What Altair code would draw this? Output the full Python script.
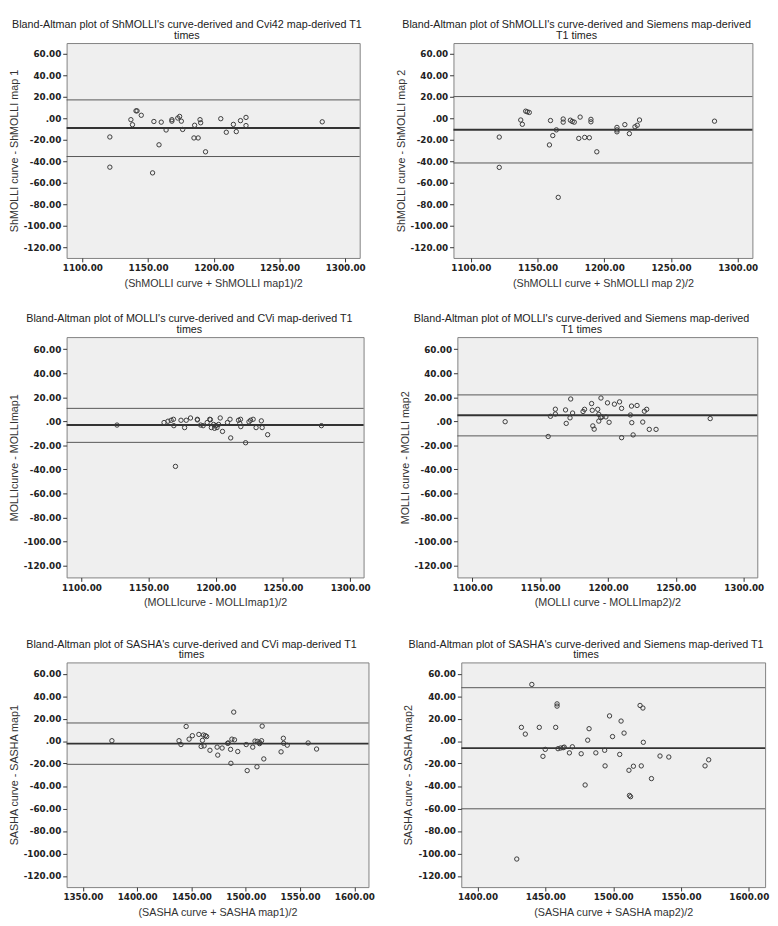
import altair as alt
import pandas as pd

# ---------------- data ----------------
p1_x = [1120.9, 1120.9, 1136.9, 1138.1, 1140.8, 1141.6, 1144.8, 1154.4, 1153.4, 1158.3, 1160.0, 1163.7, 1168.1, 1168.1, 1172.6, 1174.0, 1175.3, 1176.3, 1185.4, 1184.9, 1188.1, 1189.5, 1190.0, 1193.7, 1205.3, 1209.5, 1214.9, 1217.1, 1220.3, 1224.5, 1224.5, 1282.5]
p1_y = [-17.4, -45.5, -1.3, -6.0, 6.9, 6.9, 2.8, -3.0, -50.8, -24.7, -3.6, -10.9, -1.3, -2.7, 0.2, 1.7, -2.7, -10.4, -6.5, -18.3, -18.3, -1.3, -4.2, -31.2, -0.4, -13.0, -5.7, -12.4, -2.2, 0.8, -6.8, -3.3]
p1_lines = [17.1, -9.0, -35.6]

p2_x = [1121.3, 1121.3, 1137.4, 1138.6, 1141.1, 1142.3, 1143.8, 1159.7, 1161.4, 1158.9, 1164.1, 1165.5, 1169.2, 1169.2, 1174.6, 1176.0, 1177.5, 1180.9, 1181.9, 1185.3, 1188.8, 1190.0, 1190.0, 1194.4, 1209.5, 1209.5, 1209.5, 1215.4, 1218.8, 1223.0, 1224.7, 1226.4, 1282.6]
p2_y = [-17.5, -45.7, -1.6, -5.6, 6.6, 6.0, 5.4, -2.1, -16.1, -24.8, -10.8, -73.6, -0.7, -3.6, -1.8, -3.0, -3.6, -18.7, 1.1, -17.8, -18.1, -1.0, -3.3, -31.2, -8.5, -10.8, -12.6, -5.9, -14.3, -7.9, -6.5, -1.6, -2.7]
p2_lines = [20.2, -10.7, -41.6]

p3_x = [1126.5, 1161.5, 1164.4, 1166.8, 1168.5, 1168.8, 1170.0, 1174.1, 1176.8, 1178.0, 1181.2, 1186.3, 1186.3, 1188.7, 1190.6, 1193.6, 1195.5, 1196.0, 1196.7, 1198.4, 1199.1, 1200.1, 1200.9, 1202.1, 1203.3, 1205.0, 1208.7, 1210.6, 1211.1, 1216.9, 1218.4, 1217.9, 1218.6, 1222.2, 1224.7, 1225.9, 1227.8, 1230.0, 1233.9, 1234.5, 1238.6, 1278.6]
p3_y = [-3.2, -1.1, 0.0, 0.8, 1.6, -3.7, -37.6, 0.8, -5.3, 0.8, 2.7, 1.6, 1.1, -3.2, -3.7, -1.1, 1.6, 1.3, -5.3, -2.7, -5.9, -3.7, -5.3, -2.7, 2.7, -8.5, -1.1, 1.6, -13.9, 0.8, 1.6, -1.9, -4.5, -17.9, -0.5, 0.8, 1.6, -5.3, 0.3, -5.3, -11.2, -3.7]
p3_lines = [10.7, -3.2, -17.6]

p4_x = [1124.2, 1155.9, 1157.6, 1161.2, 1161.2, 1168.7, 1169.2, 1172.0, 1172.5, 1173.9, 1181.6, 1182.7, 1187.9, 1188.4, 1188.8, 1189.8, 1192.4, 1193.2, 1193.2, 1194.6, 1195.6, 1194.8, 1198.4, 1199.6, 1200.8, 1204.7, 1208.5, 1210.0, 1210.0, 1216.5, 1217.3, 1221.4, 1217.5, 1218.5, 1225.6, 1226.8, 1228.5, 1230.4, 1235.4, 1275.3]
p4_y = [-0.4, -12.7, 4.1, 10.0, 6.0, 9.4, -1.8, 2.8, 18.5, 6.8, 8.1, 9.9, 14.7, 9.1, -3.9, -6.6, 9.9, 5.7, 0.1, 3.0, 3.6, 19.3, 3.6, 15.3, -0.9, 14.2, 16.1, 10.7, -13.7, 5.2, 12.6, 13.1, -1.2, -11.4, -0.7, 8.3, 9.9, -6.8, -6.8, 2.2]
p4_lines = [21.9, 4.9, -12.2]

p5_x = [1376.7, 1438.5, 1440.3, 1445.1, 1447.8, 1450.8, 1456.8, 1458.9, 1460.1, 1461.0, 1462.8, 1461.6, 1464.0, 1467.0, 1473.6, 1474.2, 1478.2, 1483.3, 1483.9, 1486.0, 1486.3, 1487.2, 1488.9, 1489.6, 1492.6, 1500.4, 1501.3, 1506.4, 1508.5, 1510.6, 1512.7, 1510.3, 1513.0, 1514.5, 1515.1, 1516.6, 1532.5, 1534.6, 1534.9, 1538.2, 1557.4, 1565.2]
p5_y = [0.3, 0.3, -3.1, 13.0, 1.7, 4.8, 5.9, -4.8, 0.6, 5.4, 4.8, -4.3, 4.0, -8.2, -5.4, -12.5, -6.2, -2.0, -1.7, -7.4, -19.8, 1.7, 25.8, 1.1, -9.3, -3.1, -26.3, -5.4, 0.0, -0.3, -2.3, -22.9, -1.4, 0.3, 13.3, -15.9, -9.6, 2.5, -2.0, -3.7, -1.7, -7.1]
p5_lines = [16.1, -2.3, -20.7]

p6_x = [1440.0, 1428.9, 1432.3, 1435.2, 1445.5, 1448.2, 1449.9, 1457.6, 1458.6, 1458.6, 1459.3, 1461.2, 1463.1, 1463.9, 1467.7, 1469.9, 1476.4, 1479.3, 1481.2, 1482.2, 1487.2, 1493.7, 1494.0, 1497.3, 1499.5, 1504.8, 1505.8, 1508.0, 1511.6, 1512.0, 1512.8, 1514.9, 1519.8, 1520.7, 1521.9, 1522.2, 1528.2, 1534.5, 1541.0, 1567.7, 1570.4]
p6_y = [50.4, -105.0, 12.2, 6.2, 12.2, -13.6, -7.4, 12.2, 33.1, 31.1, -6.8, -6.2, -5.9, -5.4, -10.5, -5.1, -11.3, -39.1, 0.8, 11.0, -10.5, -8.2, -22.1, 22.4, 4.0, -11.9, 17.8, 7.1, -26.0, -48.4, -49.5, -22.4, 31.7, -22.1, 29.4, -1.1, -33.4, -13.3, -14.2, -22.1, -16.7]
p6_lines = [47.5, -6.3, -60.3]

titles = [
    ["Bland-Altman plot of ShMOLLI's curve-derived and Cvi42 map-derived T1", "times"],
    ["Bland-Altman plot of ShMOLLI's curve-derived and Siemens map-derived", "T1 times"],
    ["Bland-Altman plot of MOLLI's curve-derived and CVi map-derived T1", "times"],
    ["Bland-Altman plot of MOLLI's curve-derived and Siemens map-derived", "T1 times"],
    ["Bland-Altman plot of SASHA's curve-derived and CVi map-derived T1", "times"],
    ["Bland-Altman plot of SASHA's curve-derived and Siemens map-derived T1", "times"],
]
x_titles = [
    "(ShMOLLI curve + ShMOLLI map1)/2",
    "(ShMOLLI curve + ShMOLLI map 2)/2",
    "(MOLLIcurve - MOLLImap1)/2",
    "(MOLLI curve - MOLLImap2)/2",
    "(SASHA curve + SASHA map1)/2",
    "(SASHA curve + SASHA map2)/2",
]
y_titles = [
    "ShMOLLI curve - ShMOLLI map 1",
    "ShMOLLI curve - ShMOLLI map 2",
    "MOLLIcurve - MOLLImap1",
    "MOLLI curve - MOLLI map2",
    "SASHA curve - SASHA map1",
    "SASHA curve - SASHA map2",
]
x_domains = [[1088, 1311], [1087, 1311], [1089, 1310], [1089, 1310], [1335, 1613], [1388, 1612]]
x_ticks = [
    [1100, 1150, 1200, 1250, 1300],
    [1100, 1150, 1200, 1250, 1300],
    [1100, 1150, 1200, 1250, 1300],
    [1100, 1150, 1200, 1250, 1300],
    [1350, 1400, 1450, 1500, 1550, 1600],
    [1400, 1450, 1500, 1550, 1600],
]
y_domain = [-130, 70]
y_ticks = [60, 40, 20, 0, -20, -40, -60, -80, -100, -120]

sizes = [(300, 220), (306, 220), (304, 246), (307, 246), (309, 230), (311, 230)]

Y_LABEL = "datum.value == 0 ? '.00' : (datum.value < 0 ? '-' : '') + format(abs(datum.value), '.2f')"
X_LABEL = "format(datum.value, '.2f')"


def panel(i, xs, ys, lines):
    df = pd.DataFrame({"x": xs, "y": ys})
    limits = pd.DataFrame({"v": [lines[0], lines[2]]})
    mean = pd.DataFrame({"v": [lines[1]]})
    w, h = sizes[i]
    xs_scale = alt.Scale(domain=x_domains[i], nice=False, zero=False)
    ys_scale = alt.Scale(domain=y_domain, nice=False, zero=False)
    x_axis = alt.Axis(values=x_ticks[i], labelExpr=X_LABEL, titlePadding=5)
    y_axis = alt.Axis(values=y_ticks, labelExpr=Y_LABEL, titlePadding=4, labelPadding=2)
    lim = alt.Chart(limits).mark_rule(color="#555", strokeWidth=1).encode(
        y=alt.Y("v:Q", scale=ys_scale, title=y_titles[i], axis=y_axis)
    )
    mn = alt.Chart(mean).mark_rule(color="#333", strokeWidth=2).encode(
        y=alt.Y("v:Q", scale=ys_scale, title=y_titles[i], axis=y_axis)
    )
    pts = alt.Chart(df).mark_point(
        shape="circle", filled=False, size=20, stroke="#3a3a3a", strokeWidth=1, opacity=1
    ).encode(
        x=alt.X("x:Q", scale=xs_scale, title=x_titles[i], axis=x_axis),
        y=alt.Y("y:Q", scale=ys_scale, title=y_titles[i], axis=y_axis),
    )
    return alt.layer(lim, mn, pts).properties(
        width=w, height=h,
        title=alt.TitleParams(text=titles[i], anchor="middle", frame="bounds", offset=2),
    )


panels = [
    panel(0, p1_x, p1_y, p1_lines),
    panel(1, p2_x, p2_y, p2_lines),
    panel(2, p3_x, p3_y, p3_lines),
    panel(3, p4_x, p4_y, p4_lines),
    panel(4, p5_x, p5_y, p5_lines),
    panel(5, p6_x, p6_y, p6_lines),
]

row1 = alt.hconcat(panels[0], panels[1], spacing=29)
row2 = alt.hconcat(panels[2], panels[3], spacing=28)
row3 = alt.hconcat(panels[4], panels[5], spacing=28)

chart = alt.vconcat(
    row1,
    alt.vconcat(row2, row3, spacing=30),
    spacing=24,
).properties(
    background="white", padding=0
).configure_view(
    fill="#efefef", stroke="#808080", strokeWidth=1
).configure_axis(
    labelFont="DejaVu Sans", labelFontWeight="bold", labelFontSize=9, labelColor="#222",
    titleFont="Liberation Sans", titleFontWeight="normal", titleFontSize=11, titleColor="#333",
    domain=False, grid=False, tickColor="#333", tickSize=4, labelPadding=2,
).configure_title(
    font="Liberation Sans", fontSize=11, fontWeight="normal", color="#222", lineHeight=11,
)

chart.save("out.html", embed_options={"renderer": "svg", "actions": False})
